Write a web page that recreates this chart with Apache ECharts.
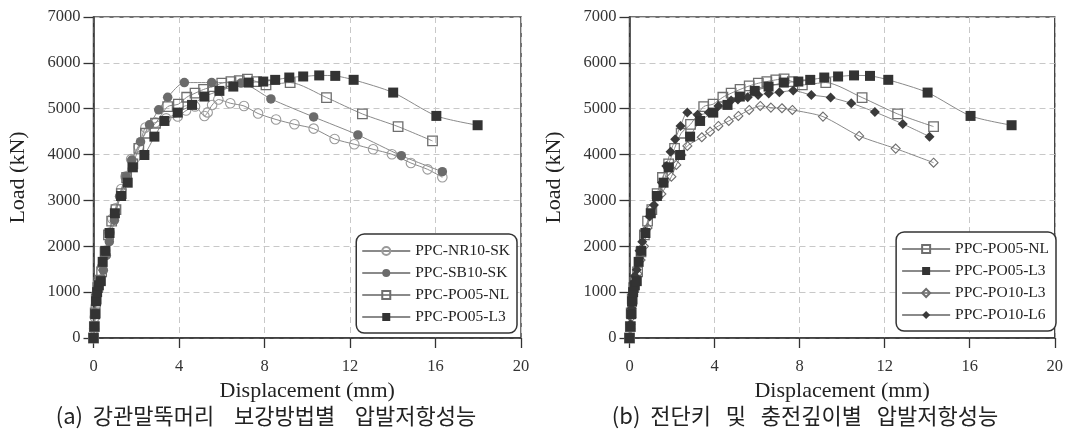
<!DOCTYPE html>
<html>
<head>
<meta charset="utf-8">
<script src="https://cdn.jsdelivr.net/npm/echarts@6/dist/echarts.min.js"></script>
<style>
  html, body { margin: 0; padding: 0; background: #fff; }
  #chart { width: 1066px; height: 430px; }
</style>
</head>
<body>
<div id="chart"></div>
<script>
// ---------- axis ticks ----------
const xTicks = { min: 0, max: 20, interval: 4 };
const yTicks = { min: 0, max: 7000, interval: 1000 };

// ---------- captions / titles ----------
const xTitle = 'Displacement (mm)';
const yTitle = 'Load (kN)';
const captionA = '(a)  강관말뚝머리    보강방법별    압발저항성능';
const captionB = '(b)  전단키   및   충전깊이별   압발저항성능';

// ---------- series names ----------
const legendA = ['PPC-NR10-SK', 'PPC-SB10-SK', 'PPC-PO05-NL', 'PPC-PO05-L3'];
const legendB = ['PPC-PO05-NL', 'PPC-PO05-L3', 'PPC-PO10-L3', 'PPC-PO10-L6'];

// ---------- data: [displacement (mm), load (kN)] ----------
const NR10_SK = [[0,0],[0.03,200],[0.06,450],[0.1,700],[0.14,950],[0.22,1200],[0.4,1550],[0.55,1900],[0.75,2300],[0.88,2600],[1.03,2830],[1.3,3250],[1.5,3520],[1.76,3900],[2.12,4170],[2.43,4590],[2.9,4700],[3.4,4790],[3.94,4830],[4.33,4960],[4.75,5050],[5.19,4840],[5.34,4920],[5.55,5080],[5.84,5200],[6.4,5120],[7.04,5060],[7.7,4895],[8.54,4765],[9.4,4660],[10.3,4566],[11.28,4340],[12.2,4225],[13.08,4115],[13.96,4006],[14.85,3816],[15.63,3678],[16.32,3504]];
const SB10_SK = [[0,0],[0.04,250],[0.08,550],[0.12,850],[0.18,1050],[0.27,1190],[0.46,1480],[0.6,1800],[0.74,2100],[0.98,2570],[1.22,3090],[1.53,3520],[1.79,3880],[2.2,4280],[2.62,4650],[3.05,4975],[3.47,5250],[4.25,5570],[5.53,5570],[6.9,5560],[8.3,5214],[10.3,4820],[12.37,4428],[14.4,3976],[16.32,3627]];
const PO05_NL_A = [[0,0],[0.04,250],[0.08,550],[0.13,850],[0.2,1100],[0.3,1260],[0.38,1443],[0.54,1880],[0.7,2250],[0.85,2550],[1.05,2800],[1.3,3150],[1.55,3500],[1.84,3795],[2.12,4137],[2.43,4465],[2.9,4683],[3.47,5046],[3.97,5098],[4.36,5250],[4.75,5338],[5.15,5420],[5.57,5483],[6.0,5556],[6.43,5592],[6.82,5614],[7.2,5644],[7.63,5590],[8.07,5520],[9.2,5570],[10.9,5243],[12.58,4886],[14.25,4610],[15.86,4297]];
const PO05_L3 = [[0,0],[0.04,250],[0.08,520],[0.12,800],[0.17,1000],[0.25,1150],[0.34,1240],[0.43,1660],[0.55,1900],[0.75,2290],[1.0,2720],[1.29,3096],[1.6,3387],[1.84,3722],[2.38,3991],[2.85,4391],[3.32,4733],[3.94,4915],[4.61,5083],[5.19,5265],[5.89,5389],[6.54,5483],[7.26,5570],[7.94,5592],[8.5,5629],[9.16,5680],[9.81,5703],[10.56,5726],[11.31,5716],[12.17,5630],[14.02,5352],[16.04,4843],[17.97,4640]];
const PO05_NL_B = [[0,0],[0.04,250],[0.08,550],[0.13,850],[0.2,1100],[0.3,1260],[0.38,1443],[0.54,1880],[0.7,2250],[0.85,2550],[1.05,2800],[1.3,3150],[1.55,3500],[1.84,3795],[2.12,4137],[2.43,4465],[2.87,4660],[3.49,5046],[3.93,5098],[4.39,5250],[4.78,5338],[5.2,5420],[5.63,5497],[6.06,5556],[6.46,5592],[6.88,5629],[7.27,5650],[7.66,5592],[8.13,5520],[9.23,5570],[10.94,5243],[12.61,4886],[14.3,4610]];
const PO10_L3 = [[0,0],[0.04,200],[0.08,450],[0.12,700],[0.17,950],[0.25,1150],[0.38,1400],[0.52,1700],[0.68,2000],[0.85,2400],[1.03,2830],[1.5,3140],[1.97,3518],[2.2,3773],[2.44,3991],[2.72,4188],[3.4,4378],[3.79,4500],[4.18,4624],[4.67,4733],[5.12,4843],[5.63,4974],[6.15,5061],[6.65,5024],[7.17,5010],[7.66,4974],[9.1,4828],[10.8,4406],[12.52,4130],[14.3,3823]];
const PO10_L6 = [[0,0],[0.05,300],[0.1,650],[0.15,950],[0.2,1200],[0.25,1350],[0.34,1490],[0.47,1900],[0.6,2100],[0.74,2320],[0.95,2650],[1.15,2900],[1.34,3080],[1.53,3387],[1.73,3750],[1.93,4063],[2.15,4334],[2.4,4624],[2.72,4915],[3.2,4870],[3.73,4915],[4.18,5060],[4.78,5177],[5.1,5200],[5.56,5250],[6.05,5300],[6.55,5330],[7.05,5360],[7.7,5395],[8.55,5300],[9.46,5243],[10.43,5120],[11.54,4930],[12.85,4668],[14.11,4391]];

// ---------- styles ----------
const SERIF = "'Liberation Serif', 'Times New Roman', serif";
const LINE = { color: '#8a8a8a', width: 1 };
const styles = {
  'PPC-NR10-SK': { symbol: 'circle', size: 9.5, item: { color: 'rgba(255,255,255,0)', borderColor: '#9a9a9a', borderWidth: 1.1 } },
  'PPC-SB10-SK': { symbol: 'circle', size: 9.5, item: { color: '#6b6b6b', borderColor: '#6b6b6b', borderWidth: 0 } },
  'PPC-PO05-NL': { symbol: 'rect', size: 9.5, item: { color: 'rgba(255,255,255,0)', borderColor: '#6e6e6e', borderWidth: 1.3 } },
  'PPC-PO05-L3': { symbol: 'rect', size: 10, item: { color: '#333333', borderColor: '#333333', borderWidth: 0 } },
  'PPC-PO10-L3': { symbol: 'diamond', size: 9, item: { color: 'rgba(255,255,255,0)', borderColor: '#6e6e6e', borderWidth: 1.1 } },
  'PPC-PO10-L6': { symbol: 'diamond', size: 10, item: { color: '#3a3a3a', borderColor: '#3a3a3a', borderWidth: 0 } }
};

function mkSeries(name, data, idx) {
  const s = styles[name];
  return {
    type: 'line', name: name, data: data,
    xAxisIndex: idx, yAxisIndex: idx,
    smooth: 0.25,
    symbol: s.symbol, symbolSize: s.size,
    showAllSymbol: true,
    lineStyle: LINE,
    itemStyle: s.item,
    emphasis: { disabled: true },
    animation: false
  };
}

const grids = [
  { left: 93.5, top: 17, width: 427.5, bottom: 92 },
  { left: 629.5, top: 17, width: 427.5, bottom: 92 }
];

function mkX(i) {
  return {
    gridIndex: i, type: 'value', min: xTicks.min, max: xTicks.max, interval: xTicks.interval,
    name: xTitle, nameLocation: 'middle', nameGap: 40,
    nameTextStyle: { fontFamily: SERIF, fontSize: 22, color: '#222' },
    axisLine: { show: true, onZero: false, lineStyle: { color: '#333', width: 1.5 } },
    axisTick: { show: true, inside: false, length: 10, lineStyle: { color: '#333', width: 1.3 } },
    axisLabel: { fontFamily: SERIF, fontSize: 16.5, color: '#333', margin: 20, formatter: v => String(v) },
    splitLine: { show: true, lineStyle: { color: '#c8c8c8', type: [6, 4], width: 1 } }
  };
}
function mkY(i) {
  return {
    gridIndex: i, type: 'value', min: yTicks.min, max: yTicks.max, interval: yTicks.interval,
    name: yTitle, nameLocation: 'middle', nameGap: 64,
    nameTextStyle: { fontFamily: SERIF, fontSize: 22, color: '#222' },
    axisLine: { show: true, onZero: false, lineStyle: { color: '#333', width: 1.5 } },
    axisTick: { show: true, inside: false, length: 10, lineStyle: { color: '#333', width: 1.3 } },
    axisLabel: { fontFamily: SERIF, fontSize: 16.5, color: '#333', margin: 13, formatter: v => String(v) },
    splitLine: { show: true, lineStyle: { color: '#c8c8c8', type: [6, 4], width: 1 } }
  };
}

function mkLegend(names, right, bottom) {
  return {
    data: names, right: right, bottom: bottom, orient: 'vertical',
    itemWidth: 48, itemHeight: 10, itemGap: 6,
    padding: [9, 7, 8, 5],
    borderColor: '#333', borderWidth: 1.5, borderRadius: 8,
    backgroundColor: '#fff',
    textStyle: { fontFamily: SERIF, fontSize: 15.5, color: '#222' },
    selectedMode: false
  };
}

const CAPTION_STYLE = { fontFamily: "'Noto Sans CJK KR', sans-serif", fontSize: 22, fontWeight: 'normal', color: '#222' };

const option = {
  backgroundColor: '#fff',
  animation: false,
  grid: grids.map(g => Object.assign({ show: true, borderColor: '#444', borderWidth: 1.5, backgroundColor: 'transparent' }, g)),
  xAxis: [mkX(0), mkX(1)],
  yAxis: [mkY(0), mkY(1)],
  legend: [mkLegend(legendA, 549, 97), mkLegend(legendB, 10, 99)],
  title: [
    { text: captionA, left: 266, top: 405, textAlign: 'center', padding: 0, textStyle: CAPTION_STYLE },
    { text: captionB, left: 805, top: 405, textAlign: 'center', padding: 0, textStyle: CAPTION_STYLE }
  ],
  series: [
    mkSeries('PPC-NR10-SK', NR10_SK, 0),
    mkSeries('PPC-SB10-SK', SB10_SK, 0),
    mkSeries('PPC-PO05-NL', PO05_NL_A, 0),
    mkSeries('PPC-PO05-L3', PO05_L3, 0),
    mkSeries('PPC-PO10-L3', PO10_L3, 1),
    mkSeries('PPC-PO05-NL', PO05_NL_B, 1),
    mkSeries('PPC-PO10-L6', PO10_L6, 1),
    mkSeries('PPC-PO05-L3', PO05_L3, 1)
  ]
};

const chart = echarts.init(document.getElementById('chart'), null, { renderer: 'canvas' });
chart.setOption(option);
</script>
</body>
</html>
